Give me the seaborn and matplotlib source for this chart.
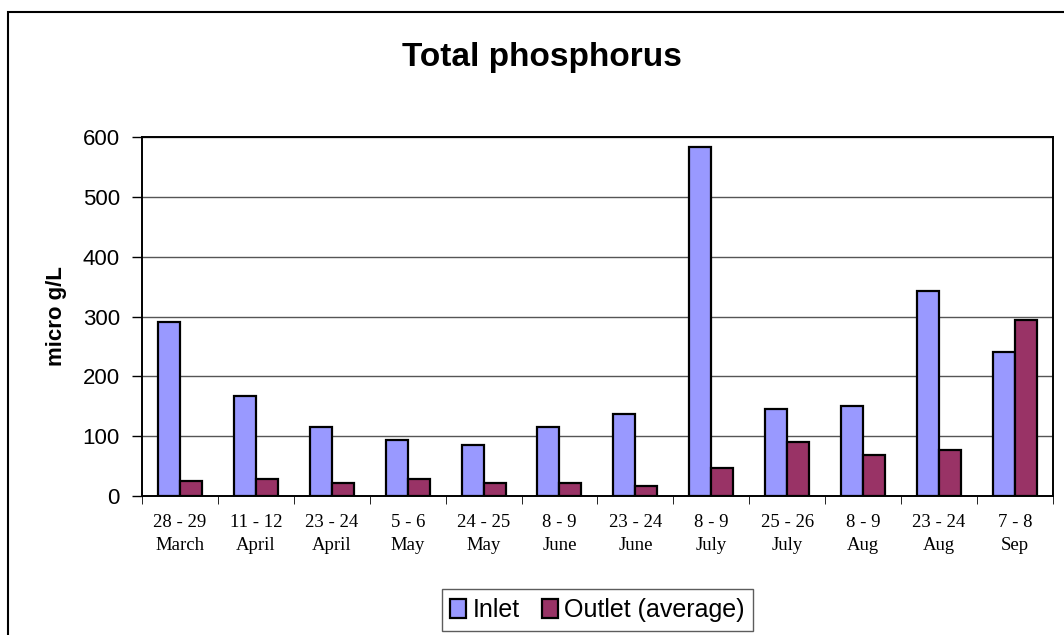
import numpy as np
import pandas as pd
import matplotlib
matplotlib.use("Agg")
import matplotlib.pyplot as plt
import seaborn as sns
from matplotlib.patches import Rectangle

# Data
dates = ["28 - 29\nMarch", "11 - 12\nApril", "23 - 24\nApril", "5 - 6\nMay",
         "24 - 25\nMay", "8 - 9\nJune", "23 - 24\nJune", "8 - 9\nJuly",
         "25 - 26\nJuly", "8 - 9\nAug", "23 - 24\nAug", "7 - 8\nSep"]
inlet = [291, 167, 116, 93, 85, 116, 137, 584, 145, 150, 342, 240]
outlet = [25, 29, 21, 29, 21, 22, 16, 47, 90, 69, 77, 295]
series = ["Inlet", "Outlet (average)"]
colors = ["#9999FF", "#993366"]

df = pd.DataFrame({
    "date": dates * 2,
    "value": inlet + outlet,
    "series": [series[0]] * len(dates) + [series[1]] * len(dates),
})

sns.set_style("white")
plt.rcParams["font.family"] = ["Liberation Sans", "DejaVu Sans"]
plt.rcParams["text.color"] = "black"
plt.rcParams["axes.labelcolor"] = "black"
plt.rcParams["xtick.color"] = "black"
plt.rcParams["ytick.color"] = "black"

fig = plt.figure(figsize=(10.64, 6.35), dpi=100)
ax = fig.add_axes([0.1335, 0.219, 0.856, 0.565])

sns.barplot(data=df, x="date", y="value", hue="series", palette=colors,
            width=0.58, gap=0, edgecolor="black", linewidth=1.6,
            saturation=1, ax=ax, legend=False)

ax.set_ylim(0, 600)
ax.set_xlim(-0.5, len(dates) - 0.5)
ax.set_yticks(range(0, 601, 100))
ax.yaxis.grid(True, color="#555555", linewidth=1.0)
ax.set_axisbelow(True)
for s in ax.spines.values():
    s.set_color("black")
    s.set_linewidth(1.4)

ax.set_xlabel("")
ax.set_ylabel("micro g/L", fontsize=16, fontweight="bold", labelpad=11)
ax.tick_params(axis="y", labelsize=16, length=7, width=1.0, pad=9,
               direction="out", left=True)
ax.set_xticks(range(len(dates)))
ax.set_xticklabels(dates, fontsize=13.5, family="Liberation Serif", linespacing=1.45)
ax.tick_params(axis="x", which="major", length=0, pad=13)
ax.set_xticks(np.arange(-0.5, len(dates), 1), minor=True)
ax.tick_params(axis="x", which="minor", length=6, direction="out", bottom=True)

fig.text(0.509, 0.91, "Total phosphorus", ha="center", va="center",
         fontsize=24, fontweight="bold")

handles = [Rectangle((0, 0), 1, 1, facecolor=c, edgecolor="black", linewidth=1.6) for c in colors]
leg = fig.legend(handles, series, loc="center", bbox_to_anchor=(0.5615, 0.039),
                 ncol=2, fontsize=18, frameon=True, fancybox=False,
                 handlelength=0.64, handleheight=0.76, handletextpad=0.24,
                 columnspacing=0.9, borderpad=0.35)
leg.get_frame().set_edgecolor("#333333")
leg.get_frame().set_linewidth(1.0)

# outer border of the chart area (only left and top edges fall inside the image)
fig.patches.append(Rectangle((8 / 1064, -0.05), 1.2, 1 - 12 / 635 + 0.05,
                             transform=fig.transFigure, fill=False,
                             edgecolor="black", linewidth=1.5))

fig.savefig("out.png", dpi=100)
